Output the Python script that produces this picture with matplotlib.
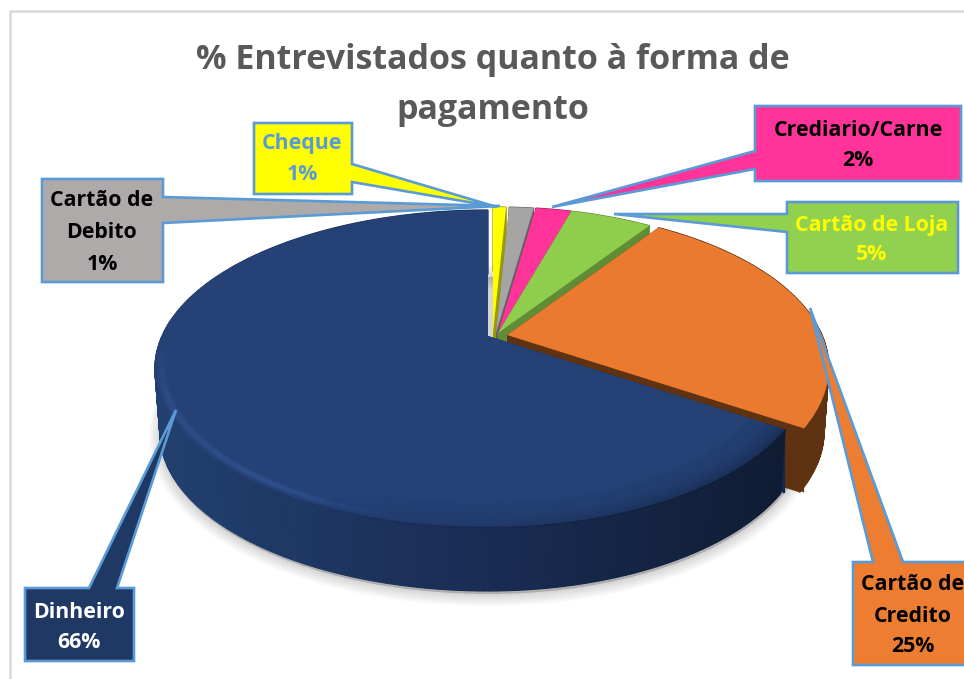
import numpy as np
import matplotlib
matplotlib.use("Agg")
import matplotlib.pyplot as plt
from matplotlib.patches import Polygon
from matplotlib.transforms import Transform, Affine2D
from matplotlib.collections import LineCollection
from matplotlib.colors import to_rgb

plt.rcParams['font.family'] = ['Open Sans', 'DejaVu Sans']

# ---- data (clockwise from 12 o'clock)
categories = ["Cheque", "Cartão de\nDebito", "Crediario/Carne", "Cartão de Loja", "Cartão de\nCredito", "Dinheiro"]
values = [0.8, 1.5, 2.2, 5.0, 24.7, 65.8]
pct_labels = ["1%", "1%", "2%", "5%", "25%", "66%"]
title = "% Entrevistados quanto à forma de\npagamento"

# ---- styles
top_colors = ["#ffff00", "#a5a5a5", "#ff3399", "#8fce4c", "#ea7a30", "#254175"]
side_colors = ["#999900", "#636363", "#99205c", "#5f8c35", "#5f3211", "#16284a"]
box_colors = ["#ffff00", "#aeaaaa", "#ff3399", "#92d050", "#ed7d31", "#1f3864"]
text_colors = ["#5b9bd5", "#000000", "#000000", "#ffff00", "#000000", "#ffffff"]

# ---- layout: perspective of the disc, in pixels
CX, CY, R_L, R_R, S, K = 488.0, 336.0, 326.0, 315.0, 151.8, 0.205
DEPTH = 64.0
offsets = [(5, -3), (8, -3), (10, -3), (10, -3), (19, -1), (0, 0)]
boxes = [(254, 352, 123, 194), (42, 163, 179, 282), (755, 961, 106, 181),
         (787, 958, 202, 273), (853, 976, 562, 665), (25, 134, 588, 661)]
# pointer: side of the box, two base positions, tip
pointers = [("r", 164, 182, (497, 207)), ("r", 197, 223, (500, 206)),
            ("l", 151, 169, (552, 207)), ("l", 214, 232, (614, 214)),
            ("t", 873, 903, (810, 308)), ("t", 89, 117, (176, 410))]
text_pos = [(302, [144, 174]), (102, [201, 232, 264]), (858, [131, 161]),
            (872, [225, 255]), (913, [584, 616, 647]), (79, [612, 642])]


def project(u, v, rscale=1.0):
    w = 1 + K * v
    r = np.where(u > 0, R_R, R_L) * rscale
    return CX + r * u / w, CY - S * v / w


class DiscTransform(Transform):
    input_dims = output_dims = 2

    def __init__(self, rscale=1.0):
        super().__init__()
        self.rscale = rscale

    def transform_non_affine(self, xy):
        xy = np.asarray(xy, float)
        x, y = project(xy[:, 0], xy[:, 1], self.rscale)
        return np.column_stack([x, y])


fig = plt.figure(figsize=(9.64, 6.79), dpi=100, facecolor="white")
ax = fig.add_axes([0, 0, 1, 1])
wedges, _ = ax.pie(values, startangle=90, counterclock=False, radius=1.0,
                   colors=top_colors, wedgeprops=dict(linewidth=0))
ax.set_aspect("auto")
ax.set_xlim(0, 964)
ax.set_ylim(679, 0)
ax.axis("off")

# frame of the picture
ax.plot([10, 10, 964], [679, 11, 11], color="#d9d9d9", lw=1.8, zorder=1)

edges = np.concatenate([[0], np.cumsum(values)]) / np.sum(values) * 2 * np.pi
disc = DiscTransform()

# soft shadow below the disc
th = np.linspace(0, 2 * np.pi, 300)
for grow in np.linspace(18, 1, 14):
    sx, sy = project(np.sin(th), np.cos(th), 0.985)
    ax.add_patch(Polygon(np.column_stack([sx + 1, sy + DEPTH + 3]), closed=True,
                         facecolor="#000000", alpha=0.013,
                         edgecolor="#000000", lw=grow, zorder=2))

c_left, c_mid, c_right = (np.array(to_rgb(c)) for c in ("#22406f", "#1a2d55", "#0f1c33"))

for i, wedge in enumerate(wedges):
    dx, dy = offsets[i]
    z = 3 + 3 * i
    t0, t1 = edges[i], edges[i + 1]
    arc = np.linspace(t0, t1, max(8, int((t1 - t0) * 90)))
    ax_x, ax_y = project(np.sin(arc), np.cos(arc))
    bx, by = project(np.sin(arc), np.cos(arc), 0.985)
    px, py = project(np.zeros(1), np.zeros(1))
    outline = np.column_stack([np.r_[px, bx], np.r_[py, by]]) + [dx, dy + DEPTH]
    ax.add_patch(Polygon(outline, closed=True, facecolor=side_colors[i], lw=0, zorder=z))
    for e in (t0, t1):
        ex, ey = project(np.sin(e), np.cos(e))
        ex, ey = float(ex), float(ey)
        ax.add_patch(Polygon([(px[0] + dx, py[0] + dy), (ex + dx, ey + dy),
                              (ex + dx, ey + dy + DEPTH), (px[0] + dx, py[0] + dy + DEPTH)],
                             closed=True, facecolor=side_colors[i], lw=0, zorder=z))
    for j in range(len(arc) - 1):
        if i == 5:
            f = np.clip((ax_x[j] - 160) / (790 - 160), 0, 1)
            col = c_left + (c_mid - c_left) * f / 0.5 if f < 0.5 else c_mid + (c_right - c_mid) * (f - 0.5) / 0.5
        else:
            col = side_colors[i]
        ax.add_patch(Polygon([(ax_x[j] + dx, ax_y[j] + dy), (ax_x[j + 1] + dx, ax_y[j + 1] + dy),
                              (bx[j + 1] + dx, by[j + 1] + dy + DEPTH), (bx[j] + dx, by[j] + dy + DEPTH)],
                             closed=True, facecolor=col, edgecolor=col, lw=0.9, zorder=z))
    wedge.set_transform(disc + Affine2D().translate(dx, dy) + ax.transData)
    wedge.set_zorder(z + 1)

# soft bevel along the edge of the big slice
t0, t1 = edges[5], edges[6]
arc = np.linspace(t0, t1, 300)
deg = np.degrees(arc)
dark_weight = np.clip((205 - deg) / 80, 0, 1)
light_weight = np.clip((deg - 190) / 25, 0, 1) * np.clip((272 - deg) / 25, 0, 1)
for p in np.linspace(0, 1, 16):
    # dark band: wide, deepening toward the rim
    rad = 0.90 + 0.10 * p
    lx, ly = project(rad * np.sin(arc), rad * np.cos(arc))
    pts = np.column_stack([lx, ly])
    segs = np.stack([pts[:-1], pts[1:]], axis=1)
    rgba = np.zeros((len(segs), 4))
    rgba[:, :3] = to_rgb("#0f1c33")
    rgba[:, 3] = (dark_weight[:-1] * (0.02 + 0.30 * p ** 2.5))
    ax.add_collection(LineCollection(segs, colors=rgba, linewidths=2.6, zorder=21, capstyle="butt"))
    # light band: thin, close to the rim
    rad = 0.965 + 0.03 * p
    lx, ly = project(rad * np.sin(arc), rad * np.cos(arc))
    pts = np.column_stack([lx, ly])
    segs = np.stack([pts[:-1], pts[1:]], axis=1)
    rgba = np.zeros((len(segs), 4))
    rgba[:, :3] = to_rgb("#4672bb")
    rgba[:, 3] = light_weight[:-1] * 0.10 * np.sin(np.pi * p)
    ax.add_collection(LineCollection(segs, colors=rgba, linewidths=1.6, zorder=22, capstyle="butt"))

# callouts
for i, (cat, pct) in enumerate(zip(categories, pct_labels)):
    x0, x1, y0, y1 = boxes[i]
    side, a, b, tip = pointers[i]
    if side == "r":
        pts = [(x0, y0), (x1, y0), (x1, a), tip, (x1, b), (x1, y1), (x0, y1)]
    elif side == "l":
        pts = [(x0, y0), (x1, y0), (x1, y1), (x0, y1), (x0, b), tip, (x0, a)]
    else:
        pts = [(x0, y0), (a, y0), tip, (b, y0), (x1, y0), (x1, y1), (x0, y1)]
    ax.add_patch(Polygon(pts, closed=True, facecolor=box_colors[i], edgecolor="#5b9bd5",
                         lw=1.9, joinstyle="miter", zorder=30))
    tx, ys = text_pos[i]
    for line, y in zip(cat.split("\n") + [pct], ys):
        ax.text(tx, y, line, ha="center", va="center", fontsize=15.3, fontweight="bold",
                color=text_colors[i], zorder=31)

for line, y in zip(title.split("\n"), (60, 110)):
    ax.text(493, y, line, ha="center", va="center", fontsize=24.5, fontweight="bold",
            color="#595959", zorder=31)

fig.savefig("out.png", dpi=100, facecolor="white")
